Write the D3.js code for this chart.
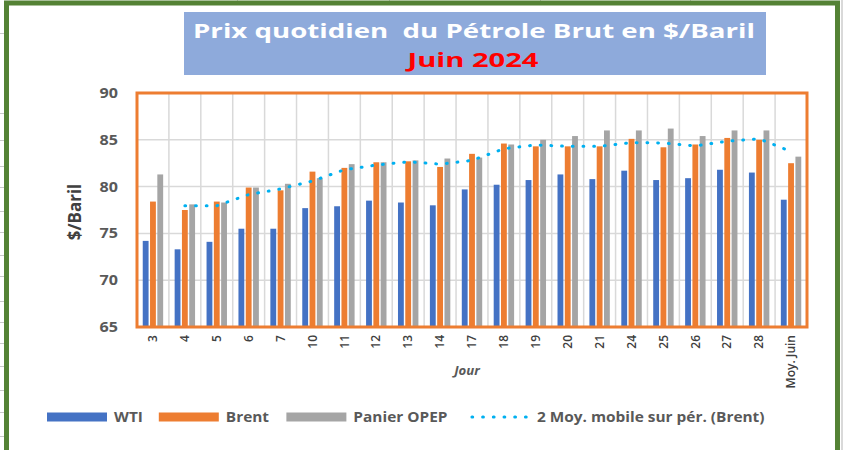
<!DOCTYPE html>
<html>
<head>
<meta charset="utf-8">
<script src="https://cdn.jsdelivr.net/npm/d3@7"></script>
<style>
  body { margin: 0; background: #fff; }
  svg { display: block; }
</style>
</head>
<body>
<script>
// jours de cotation, juin 2024
var jours = ["3", "4", "5", "6", "7", "10", "11", "12", "13", "14", "17", "18", "19", "20", "21", "24", "25", "26", "27", "28", "Moy. Juin"];

var wti   = [74.2, 73.3, 74.1, 75.5, 75.5, 77.7, 77.9, 78.5, 78.3, 78.0, 79.7, 80.2, 80.7, 81.3, 80.8, 81.7, 80.7, 80.9, 81.8, 81.5, 78.6];
var brent = [78.4, 77.5, 78.4, 79.9, 79.6, 81.6, 82.0, 82.6, 82.7, 82.1, 83.5, 84.6, 84.3, 84.3, 84.3, 85.1, 84.2, 84.5, 85.2, 85.0, 82.5];
var opep  = [81.3, 78.1, 78.3, 79.9, 80.3, 80.9, 82.4, 82.6, 82.8, 83.0, 83.1, 84.5, 85.0, 85.4, 86.0, 86.0, 86.2, 85.4, 86.0, 86.0, 83.2];
// moyenne mobile sur 2 periodes (Brent)
var moyMobile = [null, 77.95, 77.95, 79.15, 79.75, 80.6, 81.8, 82.3, 82.65, 82.4, 82.8, 84.05, 84.45, 84.3, 84.3, 84.7, 84.65, 84.35, 84.85, 85.1, 83.75];

var yTicks = [65, 70, 75, 80, 85, 90];
var series = ["WTI", "Brent", "Panier OPEP"];
var libelleMoy = "2 Moy. mobile sur pér. (Brent)";
var couleurs = ["#4472c4", "#ed7d31", "#a5a5a5"];
var titre1 = "Prix quotidien  du Pétrole Brut en $/Baril";
var titre2 = "Juin 2024";

var W = 843, H = 450;
var plot = {left: 137, right: 807, top: 93, bottom: 327};
var police = "'Open Sans', 'DejaVu Sans', sans-serif";

// elargit le texte horizontalement (le graphique d'origine est etire)
function etirer(sel, k) {
  sel.each(function() {
    var n = this.getComputedTextLength();
    d3.select(this).attr("textLength", n * k).attr("lengthAdjust", "spacingAndGlyphs");
  });
}

var svg = d3.select("body").append("svg")
  .attr("width", W)
  .attr("height", H);

// quadrillage du tableur visible autour du cadre
var deco = svg.append("g").attr("stroke", "#c8c8c8").attr("stroke-width", 1);
[33, 113, 140, 166, 187, 211, 232, 255, 276, 301, 322, 343, 366, 390, 412, 436].forEach(function(yy) {
  deco.append("line").attr("x1", 0).attr("x2", 4).attr("y1", yy + 0.5).attr("y2", yy + 0.5);
});
[237, 389, 540, 690].forEach(function(xx) {
  deco.append("line").attr("x1", xx + 0.5).attr("x2", xx + 0.5).attr("y1", 0).attr("y2", 1);
});
svg.append("rect").attr("x", 841).attr("y", 0).attr("width", 2).attr("height", H).attr("fill", "#d9d9d9");

// cadre vert
svg.append("rect")
  .attr("x", 6.5).attr("y", 3)
  .attr("width", 831).attr("height", H + 20)
  .attr("fill", "#fff")
  .attr("stroke", "#548235")
  .attr("stroke-width", 5);

// titre
svg.append("rect")
  .attr("x", 184).attr("y", 12)
  .attr("width", 582).attr("height", 63)
  .attr("fill", "#8eaadb");

svg.append("text")
  .attr("x", 474).attr("y", 38)
  .attr("text-anchor", "middle")
  .style("white-space", "pre")
  .attr("font-family", police)
  .attr("font-weight", "bold")
  .attr("font-size", "20px")
  .attr("fill", "#fff")
  .attr("textLength", 562)
  .attr("lengthAdjust", "spacingAndGlyphs")
  .text(titre1);

svg.append("text")
  .attr("x", 473).attr("y", 67)
  .attr("text-anchor", "middle")
  .attr("font-family", police)
  .attr("font-weight", "bold")
  .attr("font-size", "20px")
  .attr("fill", "#ff0000")
  .attr("textLength", 131)
  .attr("lengthAdjust", "spacingAndGlyphs")
  .text(titre2);

// echelles
var x = d3.scaleBand()
  .domain(jours)
  .range([plot.left, plot.right])
  .paddingInner(0)
  .paddingOuter(0);

var groupe = x.bandwidth() * 0.64;
var xs = d3.scaleBand()
  .domain(series)
  .range([0, groupe])
  .paddingInner(0.2);

var y = d3.scaleLinear()
  .domain([65, 90])
  .range([plot.bottom, plot.top]);

var main = svg.append("g");

// grille
main.append("g")
  .selectAll("line")
  .data(yTicks)
  .enter().append("line")
    .attr("x1", plot.left).attr("x2", plot.right)
    .attr("y1", function(d) { return y(d); })
    .attr("y2", function(d) { return y(d); })
    .attr("stroke", "#d9d9d9")
    .attr("stroke-width", 1.5);

main.append("g")
  .selectAll("line")
  .data(jours.slice(1))
  .enter().append("line")
    .attr("x1", function(d) { return x(d); })
    .attr("x2", function(d) { return x(d); })
    .attr("y1", plot.top).attr("y2", plot.bottom)
    .attr("stroke", "#d9d9d9")
    .attr("stroke-width", 1.5);

// barres
var valeurs = [wti, brent, opep];
var decal = (x.bandwidth() - groupe) / 2;

series.forEach(function(s, k) {
  main.append("g")
    .attr("fill", couleurs[k])
    .selectAll("rect")
    .data(valeurs[k])
    .enter().append("rect")
      .attr("x", function(d, i) { return x(jours[i]) + decal + xs(s); })
      .attr("y", function(d) { return y(d); })
      .attr("width", xs.bandwidth())
      .attr("height", function(d) { return plot.bottom - y(d); });
});

// moyenne mobile
var ligne = d3.line()
  .defined(function(d) { return d != null; })
  .x(function(d, i) { return x(jours[i]) + x.bandwidth() / 2; })
  .y(function(d) { return y(d); });

main.append("path")
  .datum(moyMobile)
  .attr("d", ligne)
  .attr("fill", "none")
  .attr("stroke", "#00b0f0")
  .attr("stroke-width", 3)
  .attr("stroke-linecap", "round")
  .attr("stroke-dasharray", "0.8 9.9");

// cadre orange de la zone de trace
main.append("rect")
  .attr("x", plot.left).attr("y", plot.top)
  .attr("width", plot.right - plot.left)
  .attr("height", plot.bottom - plot.top)
  .attr("fill", "none")
  .attr("stroke", "#ed7d31")
  .attr("stroke-width", 3);

// axe y
var yAxis = d3.axisLeft(y)
  .tickValues(yTicks)
  .tickSize(0)
  .tickPadding(19);

var gy = main.append("g")
  .attr("transform", "translate(" + plot.left + ",0)")
  .call(yAxis);
gy.select(".domain").remove();
gy.selectAll("text")
  .attr("font-family", police)
  .attr("font-weight", "bold")
  .attr("font-size", "14px")
  .attr("fill", "#595959")
  .call(etirer, 1.15);

// axe x
var xAxis = d3.axisBottom(x).tickSize(0);

var gx = main.append("g")
  .attr("transform", "translate(0," + plot.bottom + ")")
  .call(xAxis);
gx.select(".domain").remove();
gx.selectAll("text")
  .attr("transform", "rotate(-90)")
  .attr("x", -8)
  .attr("y", 0)
  .attr("dy", "0.35em")
  .attr("text-anchor", "end")
  .attr("font-family", police)
  .attr("font-weight", 600)
  .attr("font-size", "12px")
  .attr("fill", "#404040");

// titres des axes
svg.append("text")
  .attr("transform", "translate(81,212) rotate(-90)")
  .attr("text-anchor", "middle")
  .attr("font-family", police)
  .attr("font-weight", "bold")
  .attr("font-size", "17px")
  .attr("fill", "#404040")
  .text("$/Baril");

svg.append("text")
  .attr("x", 467).attr("y", 375)
  .attr("text-anchor", "middle")
  .attr("font-family", police)
  .attr("font-weight", "bold")
  .attr("font-style", "italic")
  .attr("font-size", "12px")
  .attr("fill", "#595959")
  .text("Jour")
  .call(etirer, 1.1);

// legende
var leg = svg.append("g").attr("transform", "translate(47,417)");
var cx = 0;
series.concat([libelleMoy]).forEach(function(lib, k) {
  if (k < 3) {
    leg.append("rect")
      .attr("x", cx).attr("y", -4.5)
      .attr("width", 60).attr("height", 9)
      .attr("fill", couleurs[k]);
  } else {
    leg.append("line")
      .attr("x1", cx + 2).attr("x2", cx + 58)
      .attr("y1", 0).attr("y2", 0)
      .attr("stroke", "#00b0f0")
      .attr("stroke-width", 3)
      .attr("stroke-linecap", "round")
      .attr("stroke-dasharray", "0.8 9.9");
  }
  var t = leg.append("text")
    .attr("x", cx + 67).attr("y", 0)
    .attr("dy", "0.35em")
    .attr("font-family", police)
    .attr("font-weight", "bold")
    .attr("font-size", "14px")
    .attr("fill", "#595959")
    .text(lib)
    .call(etirer, 1.1);
  cx += 67 + t.node().getComputedTextLength() * 1.1 + 13;
});
</script>
</body>
</html>
